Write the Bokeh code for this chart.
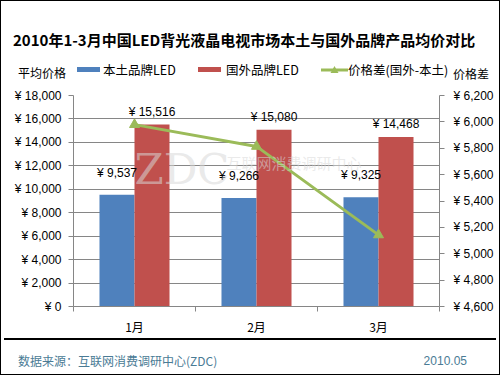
from bokeh.plotting import figure
from bokeh.layouts import column
from bokeh.models import (Range1d, LinearAxis, FixedTicker, CustomJSTickFormatter,
                          Label, ColumnDataSource, Div)
from bokeh.embed import file_html
from bokeh.resources import INLINE

# ---- data ----
months = ["1月", "2月", "3月"]
local_price = [9537, 9266, 9325]
foreign_price = [15516, 15080, 14468]
price_diff = [5979, 5814, 5143]
left_ticks = [0, 2000, 4000, 6000, 8000, 10000, 12000, 14000, 16000, 18000]
right_ticks = [4600, 4800, 5000, 5200, 5400, 5600, 5800, 6000, 6200]

title_text = "2010年1-3月中国LED背光液晶电视市场本土与国外品牌产品均价对比"
s_local = "本土品牌LED"
s_foreign = "国外品牌LED"
s_diff = "价格差(国外-本土)"
left_title = "平均价格"
right_title = "价格差"
source_text = "数据来源：互联网消费调研中心(ZDC)"
date_text = "2010.05"

BLUE = "#4F81BD"
RED = "#C0504D"
GREEN = "#9BBB59"
CJK = "Noto Sans CJK SC"
LAT = "Liberation Sans"
AX = "#868686"
FOOT_C = "#4A7B95"

W = 500
TOP_H = 88          # header strip
MAIN_H = 250        # chart strip
FOOT_H = 37         # footer strip
FL, FR = 72, 438    # frame left/right (px)
FTOP = 7            # frame top inside chart strip
FH = 211            # frame height

def span(text, x, yc, size=12, bold=False, color="black", font=CJK, align="left"):
    anchor = "translate(-100%,-50%)" if align == "right" else "translateY(-50%)"
    return (f'<span style="position:absolute;left:{x}px;top:{yc}px;transform:{anchor};'
            f'white-space:nowrap;font-family:\'{font}\';font-size:{size}px;line-height:1;'
            f'font-weight:{"bold" if bold else "normal"};color:{color};">{text}</span>')

def box(x, y, w, h, color):
    return (f'<span style="position:absolute;left:{x}px;top:{y}px;width:{w}px;height:{h}px;'
            f'background:{color};"></span>')

# ---------------- header ----------------
tri_svg = (f'<svg style="position:absolute;left:320px;top:64px;" width="27" height="10">'
           f'<line x1="0" y1="5" x2="27" y2="5" stroke="{GREEN}" stroke-width="3"/>'
           f'<polygon points="13.5,1 17.5,8 9.5,8" fill="{GREEN}"/></svg>')
header_html = (
    f'<div style="position:relative;width:{W}px;height:{TOP_H}px;background:white;'
    f'border-top:1px solid black;border-left:1px solid black;border-right:1px solid black;'
    f'box-sizing:border-box;margin:0;">'
    + span(title_text, 12, 38, size=15, bold=True)
    + span(left_title, 17, 72)
    + box(76, 66, 23, 5, BLUE) + span(s_local, 102, 69, size=12.5)
    + box(197, 66, 23, 5, RED) + span(s_foreign, 225, 69, size=12.5)
    + tri_svg + span(s_diff, 347, 69, size=12.5)
    + span(right_title, 452, 73)
    + '</div>')
top = Div(text=header_html, width=W, height=TOP_H, margin=0)

# ---------------- chart ----------------
centers = [i + 0.5 for i in range(len(months))]
bw = 0.287
src = ColumnDataSource(dict(
    xl=[c - bw / 2 for c in centers], xf=[c + bw / 2 for c in centers], xc=centers,
    local=local_price, foreign=foreign_price, diff=price_diff,
    local_lbl=["¥ {:,}".format(v) for v in local_price],
    foreign_lbl=["¥ {:,}".format(v) for v in foreign_price],
))

p = figure(width=W, height=MAIN_H, output_backend="svg", toolbar_location=None,
           x_range=Range1d(0, len(months)), y_range=Range1d(left_ticks[0], left_ticks[-1]),
           min_border_left=FL, min_border_right=W - FR, min_border_top=FTOP,
           min_border_bottom=MAIN_H - FTOP - FH, margin=0)
p.extra_y_ranges = {"diff": Range1d(right_ticks[0], right_ticks[-1])}
p.outline_line_color = None
p.background_fill_color = "white"
p.border_fill_color = "white"

fmt = CustomJSTickFormatter(code="return '¥ ' + Math.round(tick).toLocaleString('en-US');")

def style_y(a, standoff):
    a.axis_line_color = AX
    a.major_tick_line_color = AX
    a.major_tick_in = 0
    a.major_tick_out = 5
    a.minor_tick_line_color = None
    a.major_label_text_font = LAT
    a.major_label_text_font_size = "12px"
    a.major_label_text_color = "black"
    a.major_label_standoff = standoff

ya = p.yaxis[0]
ya.ticker = FixedTicker(ticks=left_ticks)
ya.formatter = fmt
style_y(ya, 7)

ra = LinearAxis(y_range_name="diff", ticker=FixedTicker(ticks=right_ticks), formatter=fmt)
style_y(ra, 9)
p.add_layout(ra, "right")

xa = p.xaxis[0]
xa.ticker = FixedTicker(ticks=centers, minor_ticks=list(range(len(months) + 1)))
xa.major_label_overrides = {c: m for c, m in zip(centers, months)}
xa.axis_line_color = AX
xa.major_tick_line_color = None
xa.minor_tick_line_color = AX
xa.minor_tick_in = 0
xa.minor_tick_out = 5
xa.major_label_text_font = CJK
xa.major_label_text_font_size = "12px"
xa.major_label_text_color = "black"
xa.major_label_standoff = 5

p.xgrid.visible = False
p.ygrid.ticker = FixedTicker(ticks=left_ticks)
p.ygrid.grid_line_color = AX
p.ygrid.grid_line_width = 1

rb = p.vbar(x="xl", top="local", width=bw, source=src, fill_color=BLUE, line_color=None)
rr = p.vbar(x="xf", top="foreign", width=bw, source=src, fill_color=RED, line_color=None)

# watermark
p.add_layout(Label(x=133 - FL, y=FTOP + FH - (169 - TOP_H), x_units="screen", y_units="screen",
                   text="ZDC", text_font="DejaVu Serif", text_font_size="42px",
                   text_color="#d8d8d8", text_alpha=0.55, text_baseline="middle"))
p.add_layout(Label(x=225 - FL, y=FTOP + FH - (162 - TOP_H), x_units="screen", y_units="screen",
                   text="互联网消费调研中心", text_font=CJK, text_font_size="15px",
                   text_color="#d8d8d8", text_alpha=0.55, text_baseline="middle"))

rl = p.line(x="xc", y="diff", source=src, y_range_name="diff", line_color=GREEN, line_width=3)
rm = p.scatter(x="xc", y="diff", source=src, y_range_name="diff", marker="triangle",
               size=10, fill_color=GREEN, line_color=GREEN)

p.text(x="xl", y="local", text="local_lbl", source=src, text_align="center",
       text_baseline="middle", y_offset=-22, text_font_size="12px",
       text_font={"value": LAT}, text_color="black")
p.text(x="xf", y="foreign", text="foreign_lbl", source=src, text_align="center",
       text_baseline="middle", y_offset=-13, text_font_size="12px",
       text_font={"value": LAT}, text_color="black")

p.styles = {"border-left": "1px solid black", "border-right": "1px solid black",
            "box-sizing": "border-box"}

# ---------------- footer ----------------
footer_html = (
    f'<div style="position:relative;width:{W}px;height:{FOOT_H}px;background:white;'
    f'border-bottom:1px solid black;border-left:1px solid black;border-right:1px solid black;'
    f'box-sizing:border-box;margin:0;">'
    + box(3, 0, 492, 2, "black")
    + span(source_text, 17, 23, color=FOOT_C)
    + span(date_text, 466, 23, color=FOOT_C, font=LAT, align="right")
    + '</div>')
foot = Div(text=footer_html, width=W, height=FOOT_H, margin=0)

layout = column(top, p, foot, spacing=0, margin=0)

open("out.html", "w").write(file_html(layout, INLINE))
